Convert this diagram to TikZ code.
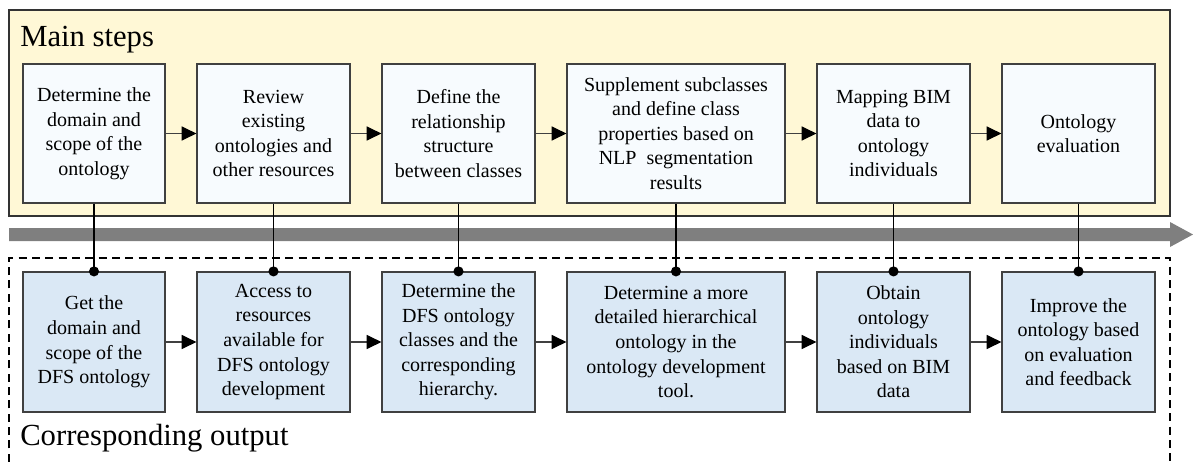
\documentclass[tikz,border=0pt]{standalone}
\usepackage{fontspec}
\setmainfont{LiberationSerif}[Extension=.ttf, UprightFont=*-Regular, BoldFont=*-Bold, ItalicFont=*-Italic, BoldItalicFont=*-BoldItalic]
\usetikzlibrary{arrows.meta}
\definecolor{stepyellow}{HTML}{FFF8D6}
\definecolor{stepfill}{HTML}{F7FBFE}
\definecolor{outfill}{HTML}{DAE8F5}
\definecolor{boxline}{HTML}{404040}
\definecolor{bandgray}{HTML}{7F7F7F}
\tikzset{
  stepbox/.style={draw=boxline, line width=0.9pt, fill=stepfill, align=center, inner sep=0pt,
    font=\rmfamily\fontsize{15}{18.4}\selectfont, minimum height=104.25pt},
  outbox/.style={stepbox, fill=outfill, minimum height=105pt},
  narrow/.style={minimum width=106.5pt},
  regular/.style={minimum width=114.75pt},
  wide/.style={minimum width=163.5pt},
  flowarrow/.style={draw=boxline, line width=0.9pt, -{Triangle[length=11pt,width=10.5pt,color=black]}},
  linkline/.style={draw=black, line width=0.9pt},
  grouptitle/.style={anchor=base west, inner sep=0pt, font=\rmfamily\fontsize{23}{27}\selectfont}
}
\begin{document}
\begin{tikzpicture}[x=0.75pt,y=-0.75pt]
\useasboundingbox (0,0) rectangle (1193,461);
% main steps panel
\draw[draw=black!80, line width=0.9pt, fill=stepyellow] (9,10) rectangle (1170,216);
\node[grouptitle] (mt) at (20,46) {Main steps};
% output dashed panel
\draw[black, line width=0.9pt, dash pattern=on 6pt off 4pt] (9,475) -- (9,258) -- (1170,258) -- (1170,475);
\node[grouptitle] (ot) at (20,445) {Corresponding output};
% gray time arrow
\fill[bandgray] (9,228) -- (1170,228) -- (1170,222) -- (1193,234.5) -- (1170,247) -- (1170,241) -- (9,241) -- cycle;
% top boxes
\node[stepbox, narrow]  (t1) at (94,133.5)   {Determine the\\domain and\\scope of the\\ontology};
\node[stepbox, regular] (t2) at (273.5,133.5) {Review\\existing\\ontologies and\\other resources};
\node[stepbox, regular] (t3) at (458.5,133.5) {Define the\\relationship\\structure\\between classes};
\node[stepbox, wide]    (t4) at (676,133.5)   {Supplement subclasses\\and define class\\properties based on\\NLP\ \ segmentation\\results};
\node[stepbox, regular] (t5) at (893.5,133.5) {Mapping BIM\\data to\\ontology\\individuals};
\node[stepbox, regular] (t6) at (1078.5,133.5) {Ontology\\evaluation};
% bottom boxes
\node[outbox, narrow]  (b1) at (94,342)   {Get the\\domain and\\scope of the\\DFS ontology};
\node[outbox, regular] (b2) at (273.5,342) {Access to\\resources\\available for\\DFS ontology\\development};
\node[outbox, regular] (b3) at (458.5,342) {Determine the\\DFS ontology\\classes and the\\corresponding\\hierarchy.};
\node[outbox, wide]    (b4) at (676,342)   {Determine a more\\detailed hierarchical\\ontology in the\\ontology development\\tool.};
\node[outbox, regular] (b5) at (893.5,342) {Obtain\\ontology\\individuals\\based on BIM\\data};
\node[outbox, regular] (b6) at (1078.5,342) {Improve the\\ontology based\\on evaluation\\and feedback};
% flow arrows
\foreach \a/\b in {1/2,2/3,3/4,4/5,5/6}{
  \draw[flowarrow] (t\a.east) -- (t\b.west);
  \draw[flowarrow] (b\a.east) -- (b\b.west);
}
% vertical links
\foreach \i in {1,...,6}{
  \draw[linkline] (t\i.south) -- (b\i.north);
  \fill[black] (b\i.north) circle (3.8pt);
}
\end{tikzpicture}
\end{document}
